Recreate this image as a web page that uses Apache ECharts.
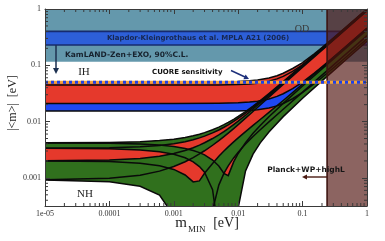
<!DOCTYPE html>
<html><head><meta charset="utf-8">
<script src="https://cdn.jsdelivr.net/npm/echarts@6/dist/echarts.min.js"></script>
<style>html,body{margin:0;padding:0;background:#fff}#c{width:385px;height:241px}</style>
</head><body><div id="c"></div>
<script>
// ---------- axis ranges & ticks ----------
const XMIN = 1e-5, XMAX = 1, YMIN = 0.000316228, YMAX = 1;
const X_TICK_EXP = [-5, -4, -3, -2, -1, 0];
const X_TICK_TEXT = ['1e-05', '0.0001', '0.001', '0.01', '0.1', '1'];
const Y_TICK_EXP = [-3, -2, -1, 0];
const Y_TICK_TEXT = ['0.001', '0.01', '0.1', '1'];
const MINOR_MULT = [2, 3, 4, 5, 6, 7, 8, 9];
const X_DECADES = [1e-5, 1e-4, 1e-3, 1e-2, 1e-1];
const Y_DECADES = [1e-4, 1e-3, 1e-2, 1e-1];

// ---------- limits ----------
const KAMLAND_LIMIT = 0.115;
const KLAPDOR_BAND = [0.23, 0.40];
const CUORE_SENS = 0.05;
const PLANCK_LIMIT = 0.24;

// ---------- normal hierarchy (lightest mass m_MIN) ----------
const M_NH = [1e-5, 1e-4, 3e-4, 6e-4, 1e-3, 1.5e-3, 2e-3, 2.5e-3, 3e-3, 4e-3, 5e-3, 6e-3, 7e-3, 8.5e-3, 1e-2, 1.3e-2, 1.7e-2, 2.2e-2, 3e-2, 5e-2, 0.1, 0.2, 0.5, 1];
const NH_A_LO = [0.00337, 0.003431, 0.003564, 0.003768, 0.004045, 0.004398, 0.00476, 0.005131, 0.00551, 0.006288, 0.007094, 0.007923, 0.008771, 0.010074, 0.011407, 0.014147, 0.017866, 0.022605, 0.03031, 0.04978, 0.09895, 0.19776, 0.4946, 0.9896];
const NH_A_HI = [0.00419, 0.004252, 0.004387, 0.004594, 0.004875, 0.005233, 0.0056, 0.005976, 0.00636, 0.007148, 0.007964, 0.008803, 0.009661, 0.010979, 0.012327, 0.015097, 0.018856, 0.023645, 0.03143, 0.0511, 0.10077, 0.20058, 0.50046, 1.0];
const NH_B_LO = [0.000924, 0.000983, 0.001115, 0.001316, 0.001589, 0.001937, 0.002294, 0.002658, 0.00303, 0.003796, 0.004586, 0.005399, 0.006231, 0.007509, 0.008813, 0.011491, 0.015114, 0.019715, 0.02714, 0.04582, 0.09253, 0.1858, 0.46545, 0.93147];
const NH_B_HI = [0.002004, 0.002066, 0.002204, 0.002414, 0.002699, 0.003062, 0.003434, 0.003813, 0.0042, 0.004996, 0.005816, 0.006659, 0.007521, 0.008844, 0.010193, 0.012961, 0.016704, 0.021455, 0.02912, 0.0484, 0.0966, 0.19288, 0.48153, 0.96255];
const NH_C_LO = [0.000919, 0.000854, 0.000709, 0.000494, 0.000211, 1e-4, 1e-4, 1e-4, 1e-4, 0.000266, 0.000744, 0.001199, 0.001635, 0.002259, 0.002857, 0.003983, 0.005432, 0.007171, 0.00989, 0.01657, 0.03327, 0.06679, 0.16754, 0.33602];
const NH_C_HI = [0.002001, 0.001946, 0.001825, 0.001646, 0.001411, 0.001125, 0.000848, 0.000882, 0.001204, 0.001806, 0.002424, 0.002999, 0.003555, 0.004359, 0.005137, 0.006623, 0.008552, 0.010891, 0.01457, 0.02365, 0.04635, 0.09187, 0.22862, 0.4566];
const NH_D_LO = [0.003355, 0.003288, 0.003139, 0.002918, 0.002627, 0.002271, 0.001924, 0.001586, 0.001256, 0.000616, 1e-4, 1e-4, 1e-4, 1e-4, 0.000293, 0.001327, 0.00264, 0.004191, 0.00655, 0.01224, 0.02597, 0.05296, 0.13348, 0.26752];
const NH_D_HI = [0.004177, 0.004124, 0.004007, 0.003834, 0.003607, 0.003331, 0.003064, 0.002806, 0.002556, 0.002076, 0.001624, 0.001195, 0.001095, 0.001919, 0.002713, 0.004227, 0.00618, 0.008531, 0.01217, 0.02106, 0.04279, 0.08578, 0.2143, 0.42834];
const NH_ENV_LO = [0.000919, 0.000854, 0.000709, 0.000494, 0.000211, 1e-4, 1e-4, 1e-4, 1e-4, 1e-4, 1e-4, 1e-4, 1e-4, 1e-4, 0.000293, 0.001327, 0.00264, 0.004191, 0.00655, 0.01224, 0.02597, 0.05296, 0.13348, 0.26752];

// ---------- inverted hierarchy ----------
const M_IH = [1e-5, 1e-3, 5e-3, 1e-2, 1.5e-2, 2e-2, 3e-2, 4e-2, 5e-2, 7e-2, 0.1, 0.15, 0.2, 0.3, 0.5, 1];
const IH_UP_LO = [0.04475, 0.04473, 0.04482, 0.04539, 0.04643, 0.0479, 0.05195, 0.05726, 0.06349, 0.07791, 0.1021, 0.1457, 0.19093, 0.28322, 0.47006, 0.93988];
const IH_UP_HI = [0.05045, 0.05048, 0.05081, 0.05167, 0.053, 0.05476, 0.05939, 0.06528, 0.07209, 0.08767, 0.1117, 0.1581, 0.2061, 0.3041, 0.5025, 1.0];
const IH_LO_LO = [0.0154, 0.01538, 0.01537, 0.01548, 0.01577, 0.01618, 0.0174, 0.01902, 0.02094, 0.02543, 0.03297, 0.04658, 0.06071, 0.08956, 0.14795, 0.29481];
const IH_LO_HI = [0.02087, 0.0209, 0.0211, 0.02155, 0.02221, 0.02305, 0.02528, 0.02803, 0.03121, 0.03842, 0.05033, 0.0716, 0.09357, 0.13833, 0.22876, 0.45603];

// ---------- styles ----------
const RED = '#e5392c', GREEN = '#30701d', BLUE = '#1f48f2', EDGE = '#0a0a0a';
const KAM = '#6498ac', KLAP = '#2d5fd8', KLAP_EDGE = '#172b6e';
const SERIF = 'Liberation Serif';

const X_MINOR = [], Y_MINOR = [];
X_DECADES.forEach(d => MINOR_MULT.forEach(k => X_MINOR.push(d * k)));
Y_DECADES.forEach(d => MINOR_MULT.forEach(k => { if (d * k > YMIN && d * k < YMAX) Y_MINOR.push(d * k); }));

const FILLS = [
  { x: M_NH, lo: NH_ENV_LO, hi: NH_A_HI, fill: RED },
  { x: M_IH, lo: IH_LO_LO, hi: IH_UP_HI, fill: RED },
  { x: M_IH, lo: IH_LO_LO, hi: IH_LO_HI, fill: BLUE },
  { x: M_NH, lo: NH_D_LO, hi: NH_D_HI, fill: GREEN },
  { x: M_NH, lo: NH_C_LO, hi: NH_C_HI, fill: GREEN },
  { x: M_NH, lo: NH_B_LO, hi: NH_B_HI, fill: GREEN },
  { x: M_NH, lo: NH_A_LO, hi: NH_A_HI, fill: GREEN }
];
const EDGES = [
  [M_IH, IH_LO_LO], [M_IH, IH_LO_HI], [M_IH, IH_UP_LO], [M_IH, IH_UP_HI],
  [M_NH, NH_A_LO], [M_NH, NH_A_HI], [M_NH, NH_B_LO], [M_NH, NH_B_HI],
  [M_NH, NH_C_LO], [M_NH, NH_C_HI], [M_NH, NH_D_LO], [M_NH, NH_D_HI]
];

function logLabel(exps, texts) {
  return function (v) {
    const l = Math.log10(v), e = Math.round(l);
    if (Math.abs(l - e) > 1e-6) return '';
    const i = exps.indexOf(e);
    return i < 0 ? '' : texts[i];
  };
}
function rectPts(api, x0, x1, y0, y1) {
  const a = api.coord([x0, y0]), b = api.coord([x1, y1]);
  return [[a[0], a[1]], [b[0], a[1]], [b[0], b[1]], [a[0], b[1]]];
}

const axisCommon = {
  type: 'log', logBase: 10, z: 20,
  axisLine: { lineStyle: { color: '#3a3a3a', width: 1 } },
  axisTick: { inside: true, length: 5, lineStyle: { color: '#3a3a3a', width: 1 } },
  splitLine: { show: false }, minorTick: { show: false }
};

const chart = echarts.init(document.getElementById('c'));
chart.setOption({
  animation: false,
  backgroundColor: '#fff',
  grid: { left: 45, right: 18, top: 9, bottom: 35 },
  xAxis: [
    Object.assign({}, axisCommon, { min: XMIN, max: XMAX, position: 'bottom',
      axisLabel: { formatter: logLabel(X_TICK_EXP, X_TICK_TEXT), fontFamily: SERIF, fontSize: 8, color: '#333', margin: 4 } }),
    Object.assign({}, axisCommon, { min: XMIN, max: XMAX, position: 'top', axisLabel: { show: false } })
  ],
  yAxis: [
    Object.assign({}, axisCommon, { min: YMIN, max: YMAX, position: 'left',
      axisLabel: { formatter: logLabel(Y_TICK_EXP, Y_TICK_TEXT), fontFamily: SERIF, fontSize: 8, color: '#333', margin: 4 } }),
    Object.assign({}, axisCommon, { min: YMIN, max: YMAX, position: 'right', axisLabel: { show: false } })
  ],
  series: [
    { // excluded / claimed regions
      type: 'custom', z: 1, clip: true, silent: true,
      data: [[1e-3, 0.5, 0], [1e-3, 0.3, 1]],
      renderItem: function (params, api) {
        const k = api.value(2);
        if (k === 0) {
          return { type: 'polygon', shape: { points: rectPts(api, XMIN, XMAX, KAMLAND_LIMIT, YMAX) }, style: { fill: KAM } };
        }
        const p = rectPts(api, XMIN, XMAX, KLAPDOR_BAND[0], KLAPDOR_BAND[1]);
        return { type: 'group', children: [
          { type: 'polygon', shape: { points: p }, style: { fill: KLAP } },
          { type: 'line', shape: { x1: p[0][0], y1: p[0][1], x2: p[1][0], y2: p[1][1] }, style: { stroke: KLAP_EDGE, lineWidth: 1.6 } },
          { type: 'line', shape: { x1: p[3][0], y1: p[3][1], x2: p[2][0], y2: p[2][1] }, style: { stroke: KLAP_EDGE, lineWidth: 1.6 } }
        ] };
      }
    },
    { // band fills
      type: 'custom', z: 2, clip: true, silent: true,
      data: FILLS.map((f, i) => [1e-3, 1e-2, i]),
      renderItem: function (params, api) {
        const f = FILLS[api.value(2)];
        const pts = [];
        for (let i = 0; i < f.x.length; i++) pts.push(api.coord([f.x[i], f.hi[i]]));
        for (let i = f.x.length - 1; i >= 0; i--) pts.push(api.coord([f.x[i], f.lo[i]]));
        return { type: 'polygon', shape: { points: pts }, style: { fill: f.fill } };
      }
    },
    { // band edges
      type: 'custom', z: 3, clip: true, silent: true,
      data: EDGES.map((e, i) => [1e-3, 1e-2, i]),
      renderItem: function (params, api) {
        const e = EDGES[api.value(2)];
        const pts = e[0].map((x, i) => api.coord([x, e[1][i]]));
        return { type: 'polyline', shape: { points: pts }, style: { stroke: EDGE, lineWidth: 1.5, fill: null } };
      }
    },
    { // Planck region
      type: 'custom', z: 4, clip: true, silent: true,
      data: [[0.5, 0.01, 0]],
      renderItem: function (params, api) {
        const p = rectPts(api, PLANCK_LIMIT, XMAX, YMIN, YMAX);
        return { type: 'group', children: [
          { type: 'polygon', shape: { points: p }, style: { fill: 'rgba(80,20,15,0.66)' } },
          { type: 'line', shape: { x1: p[0][0], y1: p[0][1], x2: p[3][0], y2: p[3][1] }, style: { stroke: '#3d1410', lineWidth: 1.6 } }
        ] };
      }
    },
    { type: 'line', z: 5, symbol: 'none', silent: true, data: [[XMIN, CUORE_SENS], [XMAX, CUORE_SENS]],
      lineStyle: { color: '#f2a33a', width: 3.2 } },
    { type: 'line', z: 6, symbol: 'none', silent: true, data: [[XMIN, CUORE_SENS], [XMAX, CUORE_SENS]],
      lineStyle: { color: '#1d3fe6', width: 3.2, type: [3, 3] } },
    { // minor ticks on x (bottom & top)
      type: 'custom', z: 21, clip: false, silent: true,
      data: X_MINOR.map(v => [v, 0.01]),
      renderItem: function (params, api) {
        const b = api.coord([api.value(0), YMIN]), t = api.coord([api.value(0), YMAX]);
        const st = { stroke: '#3a3a3a', lineWidth: 1 };
        return { type: 'group', children: [
          { type: 'line', shape: { x1: b[0], y1: b[1], x2: b[0], y2: b[1] - 3 }, style: st },
          { type: 'line', shape: { x1: t[0], y1: t[1], x2: t[0], y2: t[1] + 3 }, style: st }
        ] };
      }
    },
    { // minor ticks on y (left & right)
      type: 'custom', z: 21, clip: false, silent: true,
      data: Y_MINOR.map(v => [1e-3, v]),
      renderItem: function (params, api) {
        const l = api.coord([XMIN, api.value(1)]), r = api.coord([XMAX, api.value(1)]);
        const st = { stroke: '#3a3a3a', lineWidth: 1 };
        return { type: 'group', children: [
          { type: 'line', shape: { x1: l[0], y1: l[1], x2: l[0] + 3, y2: l[1] }, style: st },
          { type: 'line', shape: { x1: r[0], y1: r[1], x2: r[0] - 3, y2: r[1] }, style: st }
        ] };
      }
    }
  ],
  graphic: [
    { type: 'text', z: 30, x: 198, y: 38.5, style: { text: 'Klapdor-Kleingrothaus et al. MPLA A21 (2006)', align: 'center', verticalAlign: 'middle', font: 'bold 7px "DejaVu Sans"', fill: '#172750' } },
    { type: 'text', z: 30, x: 65, y: 55, style: { text: 'KamLAND-Zen+EXO, 90%C.L.', align: 'left', verticalAlign: 'middle', font: 'bold 7.5px "DejaVu Sans"', fill: '#17222e' } },
    { type: 'line', z: 30, shape: { x1: 56, y1: 45, x2: 56, y2: 69 }, style: { stroke: '#1c3050', lineWidth: 1.5 } },
    { type: 'polygon', z: 30, shape: { points: [[53, 68], [59, 68], [56, 74]] }, style: { fill: '#1c3050' } },
    { type: 'text', z: 30, x: 302, y: 29, style: { text: 'OD', align: 'center', verticalAlign: 'middle', font: '10px "Liberation Serif"', fill: '#3a3a3a' } },
    { type: 'text', z: 30, x: 84, y: 72, style: { text: 'IH', align: 'center', verticalAlign: 'middle', font: '11px "Liberation Serif"', fill: '#222' } },
    { type: 'text', z: 30, x: 152, y: 72, style: { text: 'CUORE sensitivity', align: 'left', verticalAlign: 'middle', font: 'bold 7px "DejaVu Sans"', fill: '#111' } },
    { type: 'line', z: 30, shape: { x1: 231, y1: 70.5, x2: 245, y2: 77 }, style: { stroke: '#1c2f7a', lineWidth: 1.4 } },
    { type: 'polygon', z: 30, shape: { points: [[249, 79], [243.4, 79.2], [245.6, 74.6]] }, style: { fill: '#1c2f7a' } },
    { type: 'text', z: 30, x: 85, y: 194, style: { text: 'NH', align: 'center', verticalAlign: 'middle', font: '11px "Liberation Serif"', fill: '#222' } },
    { type: 'text', z: 30, x: 306, y: 170, style: { text: 'Planck+WP+highL', align: 'center', verticalAlign: 'middle', font: 'bold 7.5px "DejaVu Sans"', fill: '#161616' } },
    { type: 'line', z: 30, shape: { x1: 327, y1: 177, x2: 306, y2: 177 }, style: { stroke: '#4a1a12', lineWidth: 1.4 } },
    { type: 'polygon', z: 30, shape: { points: [[302, 177], [307, 174.5], [307, 179.5]] }, style: { fill: '#4a1a12' } },
    { type: 'text', z: 30, x: 13, y: 103, rotation: Math.PI / 2, style: { text: '|<m>|  [eV]', align: 'center', verticalAlign: 'middle', font: '12px "Liberation Serif"', fill: '#222' } },
    { type: 'text', z: 30, x: 181, y: 223, style: { text: 'm', align: 'center', verticalAlign: 'middle', font: '15px "Liberation Serif"', fill: '#222' } },
    { type: 'text', z: 30, x: 188, y: 230, style: { text: 'MIN', align: 'left', verticalAlign: 'middle', font: '9px "Liberation Serif"', fill: '#222' } },
    { type: 'text', z: 30, x: 226, y: 223, style: { text: '[eV]', align: 'center', verticalAlign: 'middle', font: '14px "Liberation Serif"', fill: '#222' } }
  ]
});
</script></body></html>
